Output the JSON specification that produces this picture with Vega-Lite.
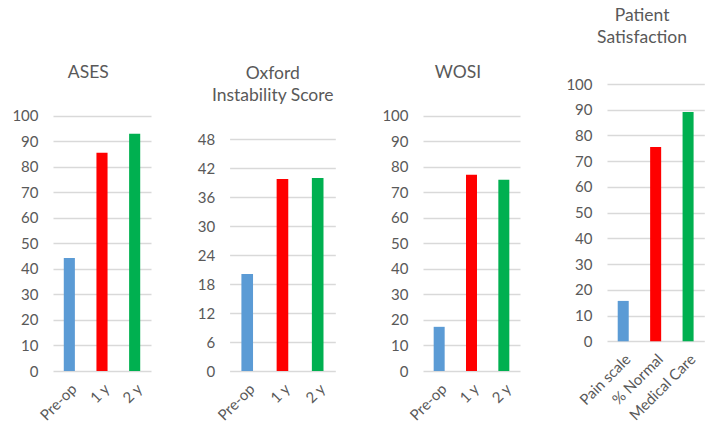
{
  "$schema": "https://vega.github.io/schema/vega-lite/v6.json",
  "background": "white",
  "padding": {"left": 11, "top": 6, "right": 5, "bottom": 5},
  "datasets": {
    "ases": [
      {"period": "Pre-op", "score": 44.3},
      {"period": "1 y", "score": 85.5},
      {"period": "2 y", "score": 92.9}
    ],
    "oxford": [
      {"period": "Pre-op", "score": 20.1},
      {"period": "1 y", "score": 39.8},
      {"period": "2 y", "score": 40.0}
    ],
    "wosi": [
      {"period": "Pre-op", "score": 17.3},
      {"period": "1 y", "score": 76.9},
      {"period": "2 y", "score": 74.9}
    ],
    "satisfaction": [
      {"period": "Pain scale", "score": 15.7},
      {"period": "% Normal", "score": 75.5},
      {"period": "Medical Care", "score": 89.1}
    ]
  },
  "config": {
    "view": {"stroke": null},
    "font": "Lato",
    "axis": {
      "labelFont": "Lato",
      "labelFontSize": 15,
      "labelColor": "#595959",
      "domain": false,
      "ticks": false
    },
    "axisY": {"grid": true, "gridColor": "#D9D9D9", "gridWidth": 1.5, "labelPadding": 15},
    "axisX": {"grid": false, "labelAngle": -45, "labelPadding": 10},
    "title": {"font": "Lato", "fontSize": 17.5, "fontWeight": "normal", "color": "#595959", "lineHeight": 22.5, "frame": "group", "anchor": "middle"},
    "legend": {"disable": true}
  },
  "spacing": 45,
  "bounds": "full",
  "hconcat": [
    {
      "spacing": 78.6,
      "bounds": "flush",
      "hconcat": [
        {
          "title": {"text": "ASES", "dx": -13.7, "offset": 2.5},
          "data": {"name": "ases"},
          "width": 98,
          "height": 287,
          "mark": {"type": "bar"},
          "encoding": {
            "x": {"field": "period", "type": "nominal", "sort": ["Pre-op", "1 y", "2 y"], "title": null, "scale": {"paddingInner": 0.66, "paddingOuter": 0.33}},
            "y": {"field": "score", "type": "quantitative", "title": null, "scale": {"domain": [0, 112.4], "nice": false}, "axis": {"values": [0, 10, 20, 30, 40, 50, 60, 70, 80, 90, 100]}},
            "color": {"field": "period", "type": "nominal", "scale": {"domain": ["Pre-op", "1 y", "2 y", "Pain scale", "% Normal", "Medical Care"], "range": ["#5B9BD5", "#FF0000", "#00B050", "#5B9BD5", "#FF0000", "#00B050"]}}
          }
        },
        {
          "title": {"text": ["Oxford", "Instability Score"], "dx": -9.7, "offset": -20.5},
          "data": {"name": "oxford"},
          "width": 105.7,
          "height": 287,
          "mark": {"type": "bar"},
          "encoding": {
            "x": {"field": "period", "type": "nominal", "sort": ["Pre-op", "1 y", "2 y"], "title": null, "scale": {"paddingInner": 0.67, "paddingOuter": 0.335}},
            "y": {"field": "score", "type": "quantitative", "title": null, "scale": {"domain": [0, 59.46], "nice": false}, "axis": {"values": [0, 6, 12, 18, 24, 30, 36, 42, 48]}},
            "color": {"field": "period", "type": "nominal"}
          }
        }
      ]
    },
    {
      "spacing": 87,
      "bounds": "flush",
      "hconcat": [
        {
          "title": {"text": "WOSI", "dx": -13.5, "offset": 2.5},
          "data": {"name": "wosi"},
          "width": 97,
          "height": 287,
          "mark": {"type": "bar"},
          "encoding": {
            "x": {"field": "period", "type": "nominal", "sort": ["Pre-op", "1 y", "2 y"], "title": null, "scale": {"paddingInner": 0.66, "paddingOuter": 0.33}},
            "y": {"field": "score", "type": "quantitative", "title": null, "scale": {"domain": [0, 112.4], "nice": false}, "axis": {"values": [0, 10, 20, 30, 40, 50, 60, 70, 80, 90, 100]}},
            "color": {"field": "period", "type": "nominal"}
          }
        },
        {
          "title": {"text": ["Patient", "Satisfaction"], "dx": -13.6, "offset": 30.5},
          "data": {"name": "satisfaction"},
          "width": 97.3,
          "height": 257.3,
          "mark": {"type": "bar"},
          "encoding": {
            "x": {"field": "period", "type": "nominal", "sort": ["Pain scale", "% Normal", "Medical Care"], "title": null, "scale": {"paddingInner": 0.66, "paddingOuter": 0.33}},
            "y": {"field": "score", "type": "quantitative", "title": null, "scale": {"domain": [0, 100], "nice": false}, "axis": {"values": [0, 10, 20, 30, 40, 50, 60, 70, 80, 90, 100]}},
            "color": {"field": "period", "type": "nominal"}
          }
        }
      ]
    }
  ]
}
